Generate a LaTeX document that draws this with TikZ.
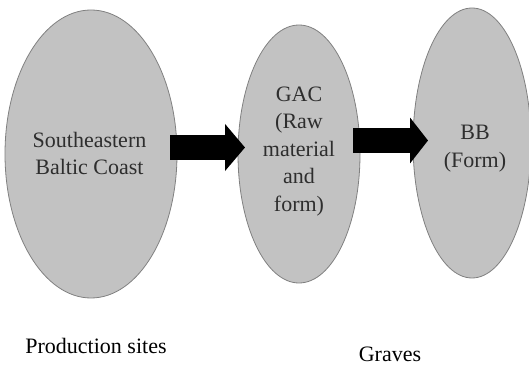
\documentclass[tikz,border=0pt]{standalone}
\usepackage{fontspec}
\setmainfont{Liberation Serif}
\usetikzlibrary{shapes.geometric,arrows.meta}
\definecolor{blobfill}{HTML}{C2C2C2}
\definecolor{blobline}{HTML}{808080}
\definecolor{blobtext}{HTML}{2E2E2E}
\tikzset{
  site/.style={ellipse,fill=blobfill,draw=blobline,line width=0.8pt,inner sep=0pt,
    align=center,text=blobtext,font=\fontsize{22}{27.5}\selectfont},
  flow/.style={draw=black,line width=25pt,-{Triangle[length=20pt,width=46pt]}},
  caption/.style={anchor=base,font=\fontsize{22}{26}\selectfont,inner sep=0pt}
}

\begin{document}
\begin{tikzpicture}[x=1pt,y=1pt]
\useasboundingbox (0,0) rectangle (529,366);
% the three places
\node[site,minimum width=172pt,minimum height=288pt] (coast) at (91,212) {};
\node[site,minimum width=122pt,minimum height=258pt] (gac) at (299,212) {};
\node[site,minimum width=118pt,minimum height=270pt] (bb) at (472,223) {};
\node[site,fill=none,draw=none] (coasttext) at (89.5,212.5) {Southeastern\\Baltic Coast};
\node[site,fill=none,draw=none] (gactext) at (299,214.5) {GAC\\(Raw\\material\\and\\form)};
\node[site,fill=none,draw=none] (bbtext) at (475,217.5) {BB\\(Form)};
% the flows
\coordinate (a1) at (170,218.5);
\coordinate (b1) at (245,218.5);
\coordinate (a2) at (353,225.5);
\coordinate (b2) at (428,225.5);
\draw[flow] (a1) -- (b1);
\draw[flow,-{Triangle[length=18pt,width=45pt]}] (a2) -- (b2);
% captions
\node[caption] (prod) at (96,12) {Production sites};
\node[caption] (graves) at (390,5) {Graves};
\end{tikzpicture}
\end{document}
